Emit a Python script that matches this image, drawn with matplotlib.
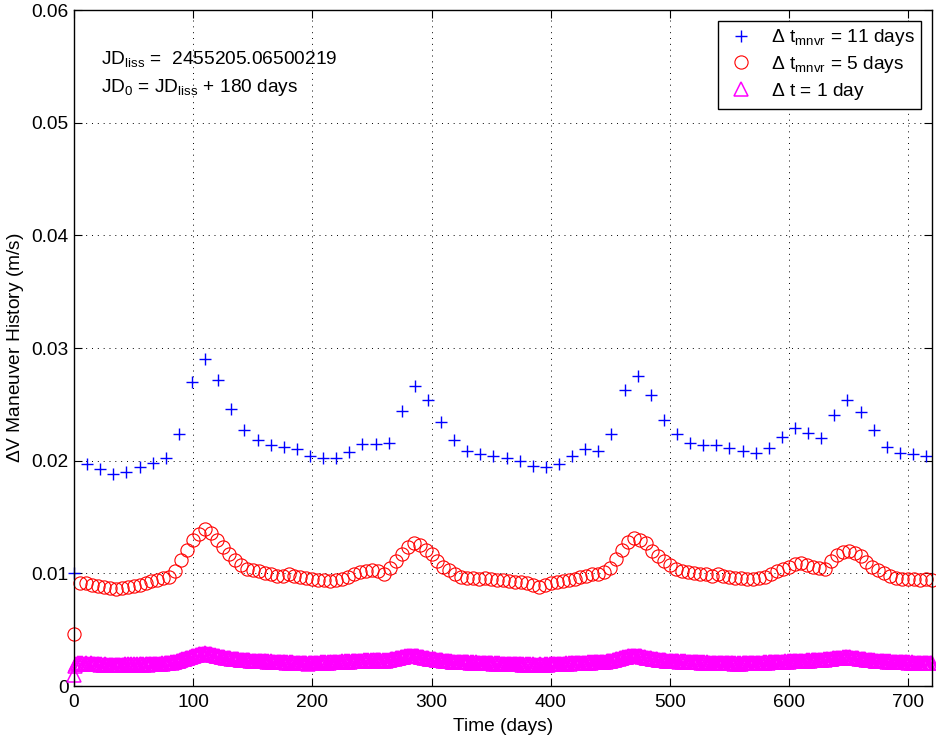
import numpy as np
import matplotlib
matplotlib.use('Agg')
import matplotlib.pyplot as plt

plt.rcParams['font.family'] = ['Liberation Sans', 'DejaVu Sans']
plt.rcParams['mathtext.default'] = 'regular'

# delta-V per manoeuvre, 11-day spacing (m/s)
dv_11day = [0.0100, 0.0197, 0.0193, 0.0188, 0.0190, 0.0194, 0.0198, 0.0202, 0.0224, 0.0270,
            0.0290, 0.0272, 0.0246, 0.0227, 0.0218, 0.0214, 0.0212, 0.0210, 0.0204, 0.0202,
            0.0202, 0.0208, 0.0215, 0.0215, 0.0216, 0.0244, 0.0266, 0.0254, 0.0234, 0.0218,
            0.0209, 0.0206, 0.0204, 0.0202, 0.0200, 0.0195, 0.0194, 0.0197, 0.0204, 0.0210,
            0.0209, 0.0224, 0.0263, 0.0275, 0.0258, 0.0236, 0.0224, 0.0216, 0.0214, 0.0214,
            0.0211, 0.0209, 0.0207, 0.0211, 0.0221, 0.0229, 0.0225, 0.0220, 0.0241, 0.0254,
            0.0243, 0.0227, 0.0212, 0.0207, 0.0206, 0.0204]

# 5-day spacing (m/s)
dv_5day = [0.0046, 0.0091, 0.0091, 0.0090, 0.0089, 0.0088, 0.0087, 0.0086, 0.0087, 0.0088,
           0.0089, 0.0090, 0.0091, 0.0093, 0.0094, 0.0096, 0.0097, 0.0102, 0.0112, 0.0121,
           0.0130, 0.0135, 0.0139, 0.0136, 0.0130, 0.0123, 0.0117, 0.0112, 0.0107, 0.0104,
           0.0103, 0.0102, 0.0100, 0.0099, 0.0098, 0.0098, 0.0099, 0.0098, 0.0097, 0.0096,
           0.0095, 0.0094, 0.0094, 0.0093, 0.0094, 0.0095, 0.0097, 0.0099, 0.0101, 0.0102,
           0.0103, 0.0102, 0.0099, 0.0105, 0.0111, 0.0117, 0.0123, 0.0127, 0.0125, 0.0121,
           0.0117, 0.0111, 0.0106, 0.0103, 0.0099, 0.0097, 0.0096, 0.0096, 0.0095, 0.0096,
           0.0095, 0.0094, 0.0094, 0.0093, 0.0092, 0.0092, 0.0091, 0.0090, 0.0088, 0.0090,
           0.0091, 0.0092, 0.0093, 0.0094, 0.0095, 0.0097, 0.0098, 0.0099, 0.0099, 0.0101,
           0.0105, 0.0113, 0.0121, 0.0128, 0.0131, 0.0130, 0.0127, 0.0120, 0.0115, 0.0111,
           0.0107, 0.0104, 0.0102, 0.0101, 0.0100, 0.0099, 0.0099, 0.0098, 0.0099, 0.0098,
           0.0097, 0.0096, 0.0096, 0.0095, 0.0095, 0.0096, 0.0097, 0.0099, 0.0102, 0.0104,
           0.0106, 0.0108, 0.0109, 0.0107, 0.0106, 0.0105, 0.0104, 0.0111, 0.0116, 0.0119,
           0.0120, 0.0118, 0.0115, 0.0110, 0.0106, 0.0103, 0.0100, 0.0098, 0.0096, 0.0095,
           0.0095, 0.0095, 0.0094, 0.0095, 0.0094]

# daily manoeuvres, in units of 1e-5 m/s
dv_1day = [100, 182, 196, 201, 198, 203, 197, 200, 195, 199, 202, 196, 198, 194, 200, 197, 193, 198, 195, 191,
           196, 192, 189, 194, 190, 187, 192, 188, 185, 190, 187, 184, 189, 186, 183, 188, 185, 187, 184, 189,
           186, 190, 187, 191, 188, 192, 189, 186, 191, 188, 193, 190, 187, 192, 189, 194, 191, 188, 193, 190,
           195, 192, 189, 194, 191, 196, 193, 198, 195, 192, 197, 194, 199, 196, 201, 198, 203, 200, 205, 202,
           207, 210, 208, 213, 216, 214, 219, 222, 225, 229, 232, 236, 239, 243, 246, 250, 253, 257, 260, 263,
           266, 270, 272, 275, 278, 280, 283, 285, 286, 288, 289, 288, 287, 285, 283, 280, 278, 275, 273, 270,
           268, 265, 263, 261, 258, 256, 254, 252, 250, 249, 247, 245, 244, 242, 241, 240, 238, 237, 236, 235,
           234, 233, 231, 232, 229, 230, 227, 228, 225, 226, 223, 225, 222, 224, 221, 223, 220, 222, 219, 221,
           218, 220, 216, 219, 215, 218, 214, 217, 213, 216, 212, 215, 211, 214, 210, 213, 209, 212, 208, 211,
           207, 210, 206, 209, 205, 208, 204, 207, 203, 206, 202, 205, 201, 204, 200, 203, 199, 204, 200, 205,
           201, 206, 202, 207, 203, 208, 204, 209, 205, 210, 206, 211, 207, 212, 208, 213, 209, 214, 210, 215,
           211, 216, 212, 217, 213, 218, 214, 219, 215, 220, 216, 221, 217, 222, 218, 223, 219, 224, 220, 225,
           221, 226, 222, 227, 223, 228, 224, 229, 225, 230, 226, 231, 227, 232, 228, 231, 227, 230, 226, 229,
           225, 228, 226, 230, 232, 235, 237, 240, 242, 244, 246, 249, 251, 253, 255, 257, 259, 261, 262, 264,
           265, 266, 267, 268, 268, 267, 266, 265, 264, 262, 260, 258, 256, 254, 252, 250, 248, 246, 244, 242,
           240, 239, 237, 236, 234, 233, 231, 230, 228, 227, 225, 224, 222, 221, 220, 219, 218, 217, 216, 215,
           214, 217, 213, 216, 212, 215, 211, 214, 210, 213, 209, 212, 208, 211, 207, 210, 206, 209, 205, 208,
           205, 208, 204, 207, 203, 206, 202, 205, 201, 204, 200, 203, 199, 202, 198, 201, 197, 200, 196, 199,
           197, 199, 195, 198, 194, 197, 193, 196, 192, 195, 193, 196, 192, 195, 191, 194, 190, 193, 189, 192,
           190, 193, 189, 192, 188, 191, 188, 190, 187, 190, 188, 191, 187, 190, 188, 191, 189, 192, 190, 193,
           191, 194, 192, 195, 193, 196, 194, 197, 195, 198, 196, 199, 197, 200, 198, 201, 199, 202, 200, 203,
           201, 204, 202, 205, 203, 206, 204, 207, 205, 208, 206, 209, 207, 210, 208, 211, 209, 212, 210, 213,
           211, 214, 212, 215, 214, 217, 216, 219, 219, 222, 223, 226, 228, 231, 234, 237, 240, 243, 246, 249,
           251, 254, 256, 258, 260, 262, 264, 266, 268, 269, 270, 270, 269, 268, 266, 264, 262, 260, 258, 256,
           253, 251, 249, 247, 245, 243, 241, 239, 237, 236, 234, 233, 231, 230, 229, 228, 227, 226, 225, 224,
           223, 225, 221, 223, 220, 222, 218, 221, 217, 220, 216, 219, 215, 218, 214, 217, 213, 216, 212, 215,
           211, 214, 210, 213, 209, 212, 208, 211, 207, 210, 206, 209, 205, 208, 204, 207, 203, 206, 203, 206,
           202, 205, 202, 205, 201, 204, 201, 204, 200, 203, 200, 203, 200, 203, 199, 202, 199, 202, 199, 202,
           199, 202, 200, 203, 200, 203, 201, 204, 201, 204, 202, 205, 203, 206, 204, 207, 205, 208, 206, 209,
           207, 210, 208, 211, 209, 212, 210, 213, 211, 214, 212, 215, 213, 216, 214, 217, 215, 218, 216, 219,
           217, 220, 218, 221, 219, 222, 220, 223, 221, 224, 222, 225, 223, 226, 224, 227, 225, 228, 226, 229,
           227, 230, 228, 231, 229, 232, 231, 234, 233, 236, 235, 238, 237, 240, 240, 243, 243, 246, 246, 249,
           248, 251, 250, 253, 252, 254, 253, 255, 254, 255, 254, 254, 253, 252, 251, 250, 248, 247, 245, 244,
           242, 241, 239, 238, 236, 235, 233, 232, 231, 230, 228, 227, 226, 225, 224, 223, 222, 221, 220, 219,
           218, 220, 217, 219, 216, 218, 215, 217, 214, 216, 213, 215, 212, 214, 211, 213, 210, 212, 209, 211,
           208, 210, 207, 209, 206, 208, 206, 208, 205, 207, 205, 207, 204, 206, 204, 206, 203, 205, 203, 205,
           202]

x_ticks = [0, 100, 200, 300, 400, 500, 600, 700]
y_ticks = [0, 0.01, 0.02, 0.03, 0.04, 0.05, 0.06]
y_tick_labels = ['0', '0.01', '0.02', '0.03', '0.04', '0.05', '0.06']

labels = [r'$\Delta$ t$_{mnvr}$ = 11 days',
          r'$\Delta$ t$_{mnvr}$ = 5 days',
          r'$\Delta$ t = 1 day']

t11 = np.arange(len(dv_11day)) * 11
t5 = np.arange(len(dv_5day)) * 5
t1 = np.arange(len(dv_1day))
dv1 = np.array(dv_1day) * 1e-5

fs = 13.8

fig = plt.figure(figsize=(9.37, 7.39), dpi=100)
ax = fig.add_axes([0.079, 0.0717, 0.9157, 0.9147])

ax.plot(t11, dv_11day, '+', color='b', ms=9, mew=1.0, clip_on=False, label=labels[0])
ax.plot(t5, dv_5day, 'o', color='r', mfc='none', ms=9.5, mew=0.8, clip_on=False, label=labels[1])
ax.plot(t1, dv1, '^', color='#ff00ff', mfc='none', ms=10.5, mew=1.1, clip_on=False, label=labels[2])

ax.set_xlim(0, 720)
ax.set_ylim(0, 0.06)
ax.set_xticks(x_ticks)
ax.set_yticks(y_ticks)
ax.set_yticklabels(y_tick_labels)
ax.grid(True, color='k', linestyle=(0, (1, 5)), linewidth=0.7)
ax.tick_params(direction='in', length=6, width=0.8, top=True, right=True, labelsize=fs)
ax.tick_params(axis='x', pad=6)
ax.tick_params(axis='y', pad=4)
for s in ax.spines.values():
    s.set_linewidth(1.0)

ax.set_xlabel('Time (days)', fontsize=fs, labelpad=5)
ax.set_ylabel(r'$\Delta$V Maneuver History (m/s)', fontsize=fs, labelpad=4)

ax.text(23, 0.05525, r'JD$_{liss}$ =  2455205.06500219', fontsize=fs, va='baseline')
ax.text(23, 0.05273, r'JD$_0$ = JD$_{liss}$ + 180 days', fontsize=fs, va='baseline')

leg = ax.legend(loc='upper right', fontsize=fs, numpoints=1, fancybox=False,
                edgecolor='k', framealpha=1, borderaxespad=0.55, handlelength=1.7,
                handletextpad=0.7, labelspacing=0.3, borderpad=0.35)
leg.get_frame().set_linewidth(1.0)

fig.savefig('out.png', dpi=100)
